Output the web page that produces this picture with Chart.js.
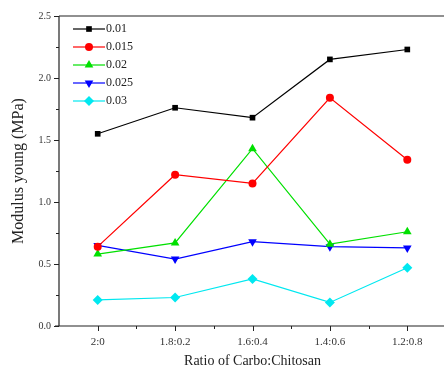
<!DOCTYPE html>
<html>
<head>
<meta charset="utf-8">
<script src="https://cdn.jsdelivr.net/npm/chart.js@4.4.0/dist/chart.umd.min.js"></script>
<style>
  html, body { margin: 0; padding: 0; background: #fff; overflow: hidden; }
  #wrap { width: 451px; height: 371px; }
</style>
</head>
<body>
<div id="wrap"><canvas id="chart"></canvas></div>
<script>
// --- dados ---
const ratios = ['2:0', '1.8:0.2', '1.6:0.4', '1.4:0.6', '1.2:0.8'];
const seriesNames = ['0.01', '0.015', '0.02', '0.025', '0.03'];
const s001 = [1.55, 1.76, 1.68, 2.15, 2.23];
const s0015 = [0.64, 1.22, 1.15, 1.84, 1.34];
const s002 = [0.58, 0.67, 1.43, 0.66, 0.76];
const s0025 = [0.65, 0.54, 0.68, 0.64, 0.63];
const s003 = [0.21, 0.23, 0.38, 0.19, 0.47];
const yTicks = [0, 0.5, 1.0, 1.5, 2.0, 2.5];

const SERIF = '"Liberation Serif", "DejaVu Serif", serif';

// estilo de cada série
const styles = [
    { color: '#000000', pointStyle: 'rect', radius: 4, rotation: 0 },
    { color: '#ff0000', pointStyle: 'circle', radius: 4, rotation: 0 },
    { color: '#00e000', pointStyle: 'triangle', radius: 5, rotation: 0 },
    { color: '#0000ff', pointStyle: 'triangle', radius: 5, rotation: 180 },
    { color: '#00e8f0', pointStyle: 'rectRot', radius: 5, rotation: 0 }
];
const values = [s001, s0015, s002, s0025, s003];

const datasets = values.map((v, i) => ({
    label: seriesNames[i],
    data: v,
    borderColor: styles[i].color,
    backgroundColor: styles[i].color,
    borderWidth: 1.2,
    pointStyle: styles[i].pointStyle,
    pointRadius: styles[i].radius,
    pointRotation: styles[i].rotation,
    pointBorderWidth: 0,
    tension: 0
}));

// desenha moldura, ticks e legenda
const framePlugin = {
    id: 'frame',
    afterDraw(chart) {
        const ctx = chart.ctx;
        const a = chart.chartArea;
        const x = chart.scales.x;
        const y = chart.scales.y;
        ctx.save();
        ctx.strokeStyle = '#222';
        ctx.lineWidth = 1.2;
        ctx.beginPath();
        ctx.moveTo(a.left, a.top); ctx.lineTo(a.right, a.top);
        ctx.moveTo(a.left, a.top); ctx.lineTo(a.left, a.bottom);
        ctx.moveTo(a.left - 4, a.bottom); ctx.lineTo(a.right, a.bottom);
        ctx.moveTo(a.right, a.top); ctx.lineTo(a.right, a.bottom);
        ctx.stroke();

        ctx.lineWidth = 1;
        ctx.beginPath();
        // ticks do eixo y (maiores e menores)
        for (let v = 0; v <= 2.5001; v += 0.25) {
            const py = Math.round(y.getPixelForValue(v)) + 0.5;
            const major = Math.abs(v / 0.5 - Math.round(v / 0.5)) < 1e-6;
            ctx.moveTo(a.left, py);
            ctx.lineTo(a.left - (major ? 5 : 3), py);
        }
        // ticks do eixo x
        ratios.forEach((r, i) => {
            const px = Math.round(x.getPixelForValue(i)) + 0.5;
            ctx.moveTo(px, a.bottom);
            ctx.lineTo(px, a.bottom + 5);
            if (i < ratios.length - 1) {
                const mx = Math.round((x.getPixelForValue(i) + x.getPixelForValue(i + 1)) / 2) + 0.5;
                ctx.moveTo(mx, a.bottom);
                ctx.lineTo(mx, a.bottom + 3);
            }
        });
        ctx.stroke();

        // legenda dentro da área
        const lx = 73, ly0 = 29, step = 18;
        ctx.font = '12px ' + SERIF;
        ctx.textBaseline = 'middle';
        chart.data.datasets.forEach((ds, i) => {
            const yy = ly0 + i * step;
            ctx.strokeStyle = ds.borderColor;
            ctx.lineWidth = 1.2;
            ctx.beginPath();
            ctx.moveTo(lx, yy); ctx.lineTo(lx + 32, yy);
            ctx.stroke();
            ctx.fillStyle = ds.backgroundColor;
            Chart.helpers.drawPoint(ctx, {
                pointStyle: ds.pointStyle,
                radius: ds.pointRadius,
                rotation: ds.pointRotation,
                borderWidth: 0
            }, lx + 16, yy);
            ctx.fillStyle = '#222';
            ctx.fillText(ds.label, lx + 33, yy);
        });
        ctx.restore();
    }
};

new Chart(document.getElementById('chart').getContext('2d'), {
    type: 'line',
    data: { labels: ratios, datasets: datasets },
    options: {
        responsive: true,
        maintainAspectRatio: false,
        animation: false,
        layout: { padding: { top: 16, right: 0, left: 0, bottom: 0 } },
        plugins: { legend: { display: false }, tooltip: { enabled: false } },
        scales: {
            x: {
                type: 'category',
                offset: true,
                grid: { display: false, drawTicks: false },
                border: { display: false },
                ticks: { color: '#333', font: { family: SERIF, size: 11 }, padding: 10, maxRotation: 0 },
                title: {
                    display: true,
                    text: 'Ratio of Carbo:Chitosan',
                    color: '#222',
                    font: { family: SERIF, size: 14 },
                    padding: { top: 4, bottom: 1 }
                },
                afterFit(scale) { scale.height = 45; }
            },
            y: {
                min: 0,
                max: 2.5,
                afterBuildTicks(scale) { scale.ticks = yTicks.map(v => ({ value: v })); },
                grid: { display: false, drawTicks: false },
                border: { display: false },
                ticks: {
                    color: '#333',
                    font: { family: SERIF, size: 10 },
                    padding: 8,
                    callback: v => Number(v).toFixed(1)
                },
                title: {
                    display: true,
                    text: 'Modulus young (MPa)',
                    color: '#222',
                    font: { family: SERIF, size: 16 },
                    padding: { top: 9, bottom: 4 }
                },
                afterFit(scale) { scale.width = 59; }
            }
        }
    },
    plugins: [framePlugin]
});
</script>
</body>
</html>
